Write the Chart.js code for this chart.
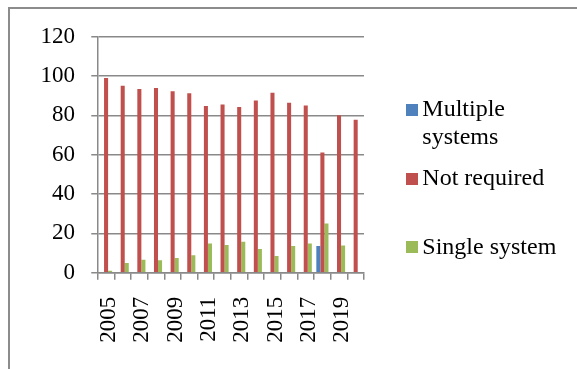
<!DOCTYPE html>
<html>
<head>
<meta charset="utf-8">
<script src="https://cdn.jsdelivr.net/npm/chart.js@4/dist/chart.umd.min.js"></script>
<style>
  html, body { margin: 0; padding: 0; background: #fff; }
  #wrap { position: relative; width: 577px; height: 369px; overflow: hidden; background: #fff; }
  #frame { position: absolute; left: 8px; top: 7px; right: -10px; bottom: -10px;
           border-left: 2px solid #8c8c8c; border-top: 2px solid #8c8c8c; }
  #c { position: absolute; left: 0; top: 0; }
</style>
</head>
<body>
<div id="wrap">
  <div id="frame"></div>
  <canvas id="c" width="577" height="369"></canvas>
</div>
<script>
// Categories (one per year)
const years = ['2005', '2006', '2007', '2008', '2009', '2010', '2011', '2012',
               '2013', '2014', '2015', '2016', '2017', '2018', '2019', '2020'];

// Years that carry a printed label on the horizontal axis
const yearLabels = ['2005', '2007', '2009', '2011', '2013', '2015', '2017', '2019'];

// Series values (%)
const multipleSystems = [0, 0, 0, 0, 0, 0, 0, 0, 0, 0, 0, 0, 0, 13.6, 0, 0];
const notRequired     = [99.0, 95.1, 93.4, 93.9, 92.3, 91.3, 84.7, 85.5,
                         84.2, 87.6, 91.5, 86.4, 85.0, 61.1, 80.1, 77.8];
const singleSystem    = [1.0, 4.9, 6.6, 6.3, 7.5, 8.9, 14.8, 14.1,
                         15.7, 12.1, 8.5, 13.6, 14.8, 25.0, 13.8, 0];

// Series names and the way they wrap in the legend
const seriesNames = ['Multiple systems', 'Not required', 'Single system'];
const legendLines = [['Multiple', 'systems'], ['Not required', ''], ['Single system', '']];

// Value axis range
const yMin = 0, yMax = 120, yStep = 20;

const seriesColors = ['#4f81bd', '#c0504d', '#9bbb59'];
const gridColor = '#898989';
const FONT = 'Liberation Serif, Times New Roman, serif';

// Legend swatch: a square sitting in the right half of its canvas
function swatch(color) {
  const c = document.createElement('canvas');
  c.width = 24; c.height = 12;
  const g = c.getContext('2d');
  g.fillStyle = color;
  g.fillRect(12, 0, 12, 12);
  return c;
}

const seriesValues = [multipleSystems, notRequired, singleSystem];

new Chart(document.getElementById('c'), {
  type: 'bar',
  data: {
    labels: years,
    datasets: seriesNames.map((name, i) => ({
      label: name,
      data: seriesValues[i],
      backgroundColor: seriesColors[i],
      borderWidth: 0,
      categoryPercentage: 0.73,
      barPercentage: 1.0
    }))
  },
  options: {
    responsive: false,
    devicePixelRatio: 1,
    animation: false,
    layout: { padding: { left: 24.25, top: 36.7, right: 10.7, bottom: 17.7 } },
    plugins: {
      tooltip: { enabled: false },
      legend: {
        position: 'right',
        align: 'center',
        maxWidth: 200,
        labels: {
          usePointStyle: true,
          pointStyleWidth: 8.6,
          padding: 14.1,
          color: '#000',
          font: { family: FONT, size: 24, lineHeight: 1.1375 },
          generateLabels(chart) {
            return chart.data.datasets.map((ds, i) => ({
              text: legendLines[i],
              fillStyle: ds.backgroundColor,
              strokeStyle: ds.backgroundColor,
              lineWidth: 0,
              pointStyle: swatch(ds.backgroundColor),
              hidden: !chart.isDatasetVisible(i),
              fontColor: '#000',
              datasetIndex: i
            }));
          }
        }
      }
    },
    scales: {
      x: {
        grid: { drawOnChartArea: false, drawTicks: true, tickLength: 7,
                color: gridColor, lineWidth: 1.5, offset: true },
        border: { color: gridColor, width: 1.5 },
        ticks: {
          autoSkip: false, minRotation: 90, maxRotation: 90, padding: 17,
          labelOffset: 3,
          color: '#000', font: { family: FONT, size: 23 },
          callback(value, index) {
            const y = years[index];
            return yearLabels.includes(y) ? y : '';
          }
        },
        // the year labels only need the gap above them, not a second one below
        afterFit(scale) { scale.height -= 8.4; }
      },
      y: {
        min: yMin, max: yMax,
        ticks: { stepSize: yStep, padding: 16.25, color: '#000',
                 font: { family: FONT, size: 23 } },
        grid: { color: gridColor, lineWidth: 1.5, tickLength: 6.5, drawTicks: true },
        border: { color: gridColor, width: 1.5 }
      },
      // empty gutter between the plot and the legend
      gutter: {
        type: 'linear', position: 'right', display: true,
        grid: { display: false }, border: { display: false }, ticks: { display: false },
        afterFit(scale) { scale.width = 23.6; }
      }
    }
  }
});
</script>
</body>
</html>
